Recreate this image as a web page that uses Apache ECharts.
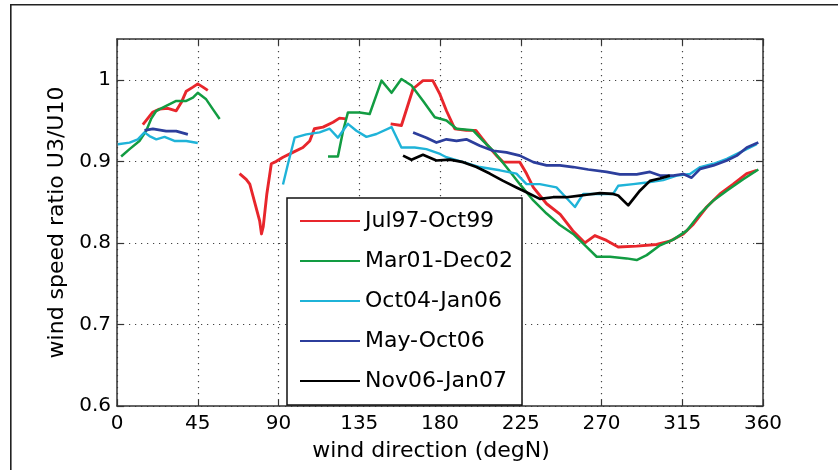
<!DOCTYPE html>
<html>
<head>
<meta charset="utf-8">
<script src="https://cdn.jsdelivr.net/npm/echarts@6/dist/echarts.min.js"></script>
<style>
  html, body { margin: 0; padding: 0; background: #fff; }
  #chart { width: 838px; height: 470px; }
</style>
</head>
<body>
<div id="chart"></div>
<script>
// Wind speed ratio U3/U10 against wind direction, one line per campaign.
// null marks a break in the record (no data in that direction sector).
const seriesNames = ['Jul97-Oct99', 'Mar01-Dec02', 'Oct04-Jan06', 'May-Oct06', 'Nov06-Jan07'];

const jul97Deg = [14.4, 19.8, 23.7, 28.3, 33, 35.8, 38.6, 42.3, 45, 47.9, 50.6, null,
  68.3, 72, 74, 76.7, 79.5, 80.5, 81.5, 83.5, 86, 88.8, 92.5, 98, 103.6, 107.4, 110, 114.8, 120.4, 124, 127.8, null,
  152.5, 158.5, 165, 170.5, 176, 180, 183.6, 188.2, 194.7, 200, 206, 211.5, 215.2, 224.5,
  228.2, 232, 239.4, 247, 254, 260.7, 266.3, 272.8, 279.3, 289.6, 300.7, 308, 315.6, 321.2, 328.6, 336, 343.4, 350.9, 356.5];
const jul97Ratio = [0.945, 0.96, 0.964, 0.965, 0.962, 0.972, 0.986, 0.991, 0.995, 0.991, 0.987, null,
  0.885, 0.878, 0.872, 0.85, 0.827, 0.811, 0.82, 0.86, 0.897, 0.900, 0.905, 0.911, 0.917, 0.925, 0.94, 0.942, 0.948, 0.953, 0.952, null,
  0.946, 0.944, 0.989, 0.999, 0.999, 0.982, 0.962, 0.94, 0.938, 0.938, 0.921, 0.907, 0.899, 0.899,
  0.885, 0.868, 0.848, 0.835, 0.815, 0.80, 0.809, 0.803, 0.795, 0.796, 0.798, 0.802, 0.811, 0.823, 0.844, 0.86, 0.872, 0.885, 0.889];

const mar01Deg = [2.3, 7, 12.5, 16.3, 19, 21.9, 27.4, 33, 38.6, 42.3, 45, 49.7, 53.4, 57.2, null,
  117.6, 123.1, 126, 128.7, 135.2, 140.8, 147.4, 153, 158.5, 164.1, 170.6, 177.1, 183.6, 189.2, 198.4, 204,
  209.6, 217, 224.5, 232, 239.4, 246.8, 254.2, 261.7, 267.3, 274.7, 284, 289.6, 295.2, 302.6, 310, 317.5,
  325, 332.4, 339.8, 349, 357.4];
const mar01Ratio = [0.906, 0.915, 0.925, 0.9375, 0.952, 0.962, 0.968, 0.974, 0.974, 0.978, 0.984, 0.976, 0.964, 0.952, null,
  0.906, 0.906, 0.9375, 0.96, 0.96, 0.958, 0.999, 0.984, 1.001, 0.993, 0.974, 0.954, 0.95, 0.94, 0.938, 0.925,
  0.913, 0.893, 0.872, 0.852, 0.836, 0.822, 0.811, 0.795, 0.783, 0.783, 0.781, 0.779, 0.785, 0.797, 0.804, 0.815,
  0.836, 0.852, 0.864, 0.878, 0.89];

const oct04Deg = [0.5, 7, 11.6, 15.3, 18.1, 21.9, 26.5, 32, 38.6, 45, null,
  92.5, 95.3, 99, 105.5, 112.9, 118.5, 123.1, 128.7, 133.4, 139, 144.6, 153, 158.5, 165.9, 172.4, 180, 183.6,
  192.9, 202.2, 213.4, 222.6, 228.2, 235.6, 244.9, 250.5, 255.2, 259.8, 267.3, 276.5, 279.3, 287.7, 295.2,
  304.4, 311.9, 319.3, 325, 332.4, 339.8, 347.2, 356.5];
const oct04Ratio = [0.921, 0.923, 0.927, 0.9355, 0.931, 0.927, 0.930, 0.925, 0.925, 0.9225, null,
  0.8715, 0.897, 0.929, 0.933, 0.9355, 0.94, 0.929, 0.946, 0.9375, 0.930, 0.9335, 0.942, 0.917, 0.917, 0.915, 0.909, 0.905,
  0.899, 0.893, 0.889, 0.885, 0.872, 0.872, 0.868, 0.855, 0.844, 0.86, 0.86, 0.86, 0.870, 0.872, 0.874,
  0.877, 0.8825, 0.8845, 0.893, 0.897, 0.903, 0.911, 0.921];

const mayDeg = [15.3, 20, 27.4, 33, 39.5, null,
  165, 172.4, 178, 183.6, 189.2, 194.7, 202.2, 209.6, 217, 224.5, 232, 239.4, 246.8, 254.2, 262.6, 272.8,
  280.2, 289.6, 297, 302.6, 310, 315.6, 320.2, 325, 332.4, 339.8, 345.4, 351, 357.4];
const mayRatio = [0.938, 0.9397, 0.937, 0.937, 0.933, null,
  0.9355, 0.929, 0.923, 0.927, 0.925, 0.927, 0.919, 0.913, 0.911, 0.907, 0.899, 0.895, 0.895, 0.893, 0.89, 0.887,
  0.884, 0.884, 0.887, 0.8825, 0.8825, 0.8845, 0.880, 0.8907, 0.895, 0.901, 0.907, 0.917, 0.923];

const nov06Deg = [159.4, 164.1, 170.5, 178, 185.5, 192.9, 200.3, 207.7, 215.2, 222.6, 228.2, 235.6, 243,
  250.5, 257.9, 261.7, 269.1, 276.5, 279.3, 284.9, 291.4, 297, 302.6, 308.1];
const nov06Ratio = [0.907, 0.902, 0.908, 0.901, 0.902, 0.899, 0.893, 0.885, 0.876, 0.868, 0.862, 0.854, 0.856,
  0.856, 0.858, 0.859, 0.861, 0.860, 0.858, 0.846, 0.864, 0.876, 0.879, 0.8825];

const dirTicks = [0, 45, 90, 135, 180, 225, 270, 315, 360];
const ratioTicks = [0.6, 0.7, 0.8, 0.9, 1];
const ratioMax = 1.05;

const lineColors = ['#e8262c', '#129c42', '#1fb3d8', '#2c3e9c', '#000000'];
const lineWidths = [2.9, 2.5, 2.4, 2.7, 2.7];

function pairs(deg, ratio) {
  return deg.map((d, i) => (d === null ? ['-', '-'] : [d, ratio[i]]));
}
const seriesData = [
  pairs(jul97Deg, jul97Ratio),
  pairs(mar01Deg, mar01Ratio),
  pairs(oct04Deg, oct04Ratio),
  pairs(mayDeg, mayRatio),
  pairs(nov06Deg, nov06Ratio)
];

const FONT = 'DejaVu Sans';
const axisColor = '#333';
const gridDots = '#444';

const chart = echarts.init(document.getElementById('chart'), null, { renderer: 'canvas' });

const xStep = dirTicks[1] - dirTicks[0];
const yStep = +(ratioTicks[1] - ratioTicks[0]).toFixed(2);

function xAxisCfg(position, main) {
  return {
    type: 'value', position: position, min: dirTicks[0], max: dirTicks[dirTicks.length - 1], interval: xStep,
    axisLine: { show: true, onZero: false, lineStyle: { color: axisColor, width: 1.5 } },
    axisTick: { show: true, inside: true, length: 6, lineStyle: { color: axisColor, width: 1.2 } },
    axisLabel: { show: main, color: '#000', fontFamily: FONT, fontSize: 20, margin: 8 },
    splitLine: { show: main, lineStyle: { color: gridDots, width: 1.2, type: [1.2, 4.8] } },
    name: main ? 'wind direction (degN)' : '',
    nameLocation: 'middle', nameGap: 34,
    nameTextStyle: { color: '#000', fontFamily: FONT, fontSize: 22, padding: [0, 18, 0, 0] }
  };
}
function yAxisCfg(position, main) {
  return {
    type: 'value', position: position, min: ratioTicks[0], max: ratioMax, interval: yStep,
    axisLine: { show: true, onZero: false, lineStyle: { color: axisColor, width: 1.5 } },
    axisTick: { show: true, inside: true, length: 7, lineStyle: { color: axisColor, width: 1.2 } },
    axisLabel: {
      show: main, color: '#000', fontFamily: FONT, fontSize: 20, margin: 6,
      showMaxLabel: false,
      formatter: v => (Math.abs(v - 1) < 1e-6 ? '1' : (v > ratioTicks[ratioTicks.length - 1] + 1e-6 ? '' : v.toFixed(1)))
    },
    splitLine: { show: main, lineStyle: { color: gridDots, width: 1.2, type: [1.2, 4.8] } },
    name: main ? 'wind speed ratio U3/U10' : '',
    nameLocation: 'middle', nameGap: 48, nameRotate: 90,
    nameTextStyle: { color: '#000', fontFamily: FONT, fontSize: 22 }
  };
}

chart.setOption({
  animation: false,
  backgroundColor: '#fff',
  graphic: [{
    type: 'rect', left: 10, top: 4, z: -10,
    shape: { x: 0, y: 0, width: 900, height: 520 },
    style: { fill: '#fff', stroke: '#222', lineWidth: 1.6 }
  }],
  grid: { left: 117, right: 75, top: 39, bottom: 64, containLabel: false },
  xAxis: [xAxisCfg('bottom', true), xAxisCfg('top', false)],
  yAxis: [yAxisCfg('left', true), yAxisCfg('right', false)],
  legend: {
    orient: 'vertical', left: 287, top: 198,
    padding: [11, 9, 12, 12], itemGap: 16, itemWidth: 60, itemHeight: 14,
    backgroundColor: '#fff', borderColor: '#111', borderWidth: 1.5,
    selectedMode: false,
    itemStyle: { opacity: 0 },
    textStyle: { color: '#000', fontFamily: FONT, fontSize: 22, lineHeight: 24 },
    data: seriesNames
  },
  series: seriesNames.map((name, i) => ({
    name: name, type: 'line', data: seriesData[i],
    xAxisIndex: 0, yAxisIndex: 0,
    symbol: 'none', connectNulls: false, smooth: false,
    color: lineColors[i],
    lineStyle: { color: lineColors[i], width: lineWidths[i], join: 'round' },
    z: 2 + i
  }))
});
</script>
</body>
</html>
